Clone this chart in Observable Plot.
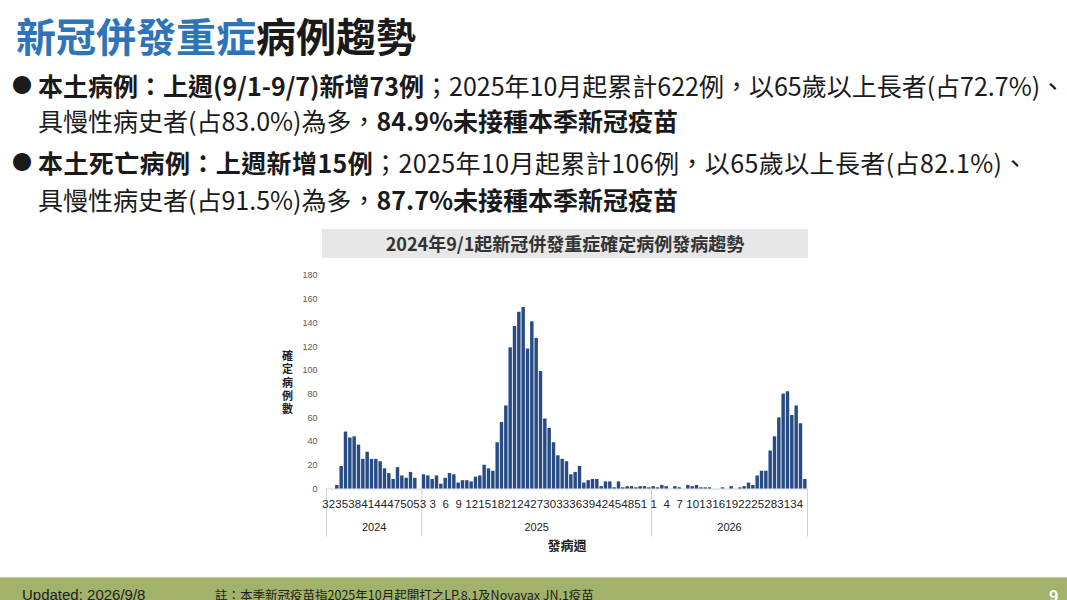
<!DOCTYPE html>
<html><head><meta charset="utf-8">
<script src="https://cdn.jsdelivr.net/npm/d3@7"></script>
<script src="https://cdn.jsdelivr.net/npm/@observablehq/plot@0.6"></script>
<style>
html,body{margin:0;padding:0;background:#fff;}
body{width:1067px;height:600px;position:relative;overflow:hidden;font-family:"Noto Sans CJK TC","Noto Sans",sans-serif;color:#1a1a1a;}
#title{position:absolute;left:16px;top:6px;font-size:40px;font-weight:700;line-height:58px;white-space:nowrap;}
#title .blue{color:#2e74b8;}
.line{position:absolute;left:38px;font-size:25px;line-height:36px;white-space:nowrap;}
.bullet{position:absolute;left:12px;font-size:20px;line-height:36px;}
b{font-weight:700;}
#ctitle{position:absolute;left:322px;top:229px;width:486px;height:29px;background:#e7e7e7;text-align:center;font-size:18px;font-weight:700;line-height:29px;color:#333;}
#chart{position:absolute;left:270px;top:262px;}
#footer{position:absolute;left:0;top:577px;width:1067px;height:23px;background:#a2b26b;border-top:1px solid #c3cf98;}
#footer span{position:absolute;top:7px;font-size:14px;line-height:20px;white-space:nowrap;color:#1e1e1e;}
</style></head>
<body>
<div id="title"><span class="blue">新冠併發重症</span>病例趨勢</div>
<div class="bullet" style="top:67px">●</div>
<div class="line" style="top:67px"><b>本土病例：上週(9/1-9/7)新增73例</b>；2025年10月起累計622例，以65歲以上長者(占72.7%)、</div>
<div class="line" style="top:102px">具慢性病史者(占83.0%)為多，<b>84.9%未接種本季新冠疫苗</b></div>
<div class="bullet" style="top:144px">●</div>
<div class="line" style="top:144px;letter-spacing:0.4px"><b>本土死亡病例：上週新增15例</b>；2025年10月起累計106例，以65歲以上長者(占82.1%)、</div>
<div class="line" style="top:181px">具慢性病史者(占91.5%)為多，<b>87.7%未接種本季新冠疫苗</b></div>
<div id="ctitle">2024年9/1起新冠併發重症確定病例發病趨勢</div>
<div id="chart"></div>
<div id="footer">
  <span style="left:22px;font-family:'Liberation Sans Narrow','Liberation Sans',sans-serif;font-size:15px">Updated: 2026/9/8</span>
  <span style="left:215px;font-size:12.5px">註：本季新冠疫苗指2025年10月起開打之LP.8.1及Novavax JN.1疫苗</span>
  <span style="left:1049px;color:#fff;font-weight:700;font-size:16px">9</span>
</div>
<script>
const years = ["2024", "2025", "2026"];
const firstWeek = [32, 1, 1];
const cases2024 = [0, 0, 3, 19, 48, 43, 44, 37, 25, 31, 25, 25, 23, 17, 13, 8, 18, 11, 9, 14, 9, 0];
const cases2025 = [12, 11, 8, 11, 4, 9, 13, 12, 5, 7, 7, 6, 10, 11, 20, 17, 15, 39, 56, 70,
  119, 137, 149, 153, 118, 141, 127, 99, 59, 51, 39, 28, 25, 23, 12, 14, 19, 5, 7, 8,
  8, 2, 6, 6, 1, 6, 1, 2, 2, 1, 2, 2, 1];
const cases2026 = [2, 1, 3, 2, 0, 2, 1, 0, 3, 2, 3, 1, 1, 1, 0, 0, 1, 0, 2, 0,
  1, 2, 5, 3, 11, 15, 15, 32, 44, 60, 80, 82, 62, 70, 55, 8];
const yTicks = [0, 20, 40, 60, 80, 100, 120, 140, 160, 180];
const labelEvery = 3;
const yLabel = "確\n定\n病\n例\n數";
const xLabel = "發病週";

const series = [cases2024, cases2025, cases2026];
const rows = [];
const groups = [];
let idx = 0;
series.forEach((vals, g) => {
  const start = idx;
  vals.forEach((v, k) => { rows.push({i: idx, year: years[g], week: firstWeek[g] + k, value: v}); idx++; });
  groups.push({year: years[g], start, end: idx});
});
const n = idx;
const weekTicks = rows.filter(r => r.i % labelEvery === 0).map(r => r.i + 0.5);
const weekLabel = new Map(rows.map(r => [r.i + 0.5, String(r.week)]));
const boundaries = [0, ...groups.map(g => g.end)];
const yearMid = new Map(groups.map(g => [(g.start + g.end) / 2, g.year]));

const chart = Plot.plot({
  width: 560, height: 300,
  marginLeft: 56, marginRight: 23, marginTop: 13, marginBottom: 73.5,
  style: {fontFamily: "'Liberation Sans', Arial, sans-serif", background: "transparent", overflow: "visible", color: "#222"},
  x: {type: "linear", domain: [0, n]},
  y: {domain: [0, 180]},
  marks: [
    Plot.axisY({ticks: yTicks, tickSize: 0, tickPadding: 9, fontSize: 9, color: "#595959", label: null}),
    Plot.ruleY([0], {stroke: "#d4d4d4"}),
    Plot.rectY(rows, {x1: "i", x2: d => d.i + 1, y: "value", fill: "#264b85", insetLeft: 0.45, insetRight: 0.45}),
    Plot.axisX({ticks: boundaries, tickSize: 48, tickFormat: () => "", color: "#d0d0d0", label: null}),
    Plot.axisX({ticks: weekTicks, tickSize: 0, tickPadding: 11, tickFormat: d => weekLabel.get(d), fontSize: 11.5, color: "#222", label: null}),
    Plot.axisX({ticks: [...yearMid.keys()], tickSize: 0, tickPadding: 34, tickFormat: d => yearMid.get(d), fontSize: 11, color: "#222", label: null}),
    Plot.text([xLabel], {frameAnchor: "bottom", dy: 61, fontSize: 13, fontWeight: "bold", fill: "#222", fontFamily: "'Noto Sans CJK TC', sans-serif"}),
    Plot.text([yLabel], {frameAnchor: "left", textAnchor: "middle", dx: -39, fontSize: 11, fontWeight: "bold", lineHeight: 1.22, fill: "#222", fontFamily: "'Noto Sans CJK TC', sans-serif"})
  ]
});
document.getElementById("chart").appendChild(chart);
</script>
</body></html>
